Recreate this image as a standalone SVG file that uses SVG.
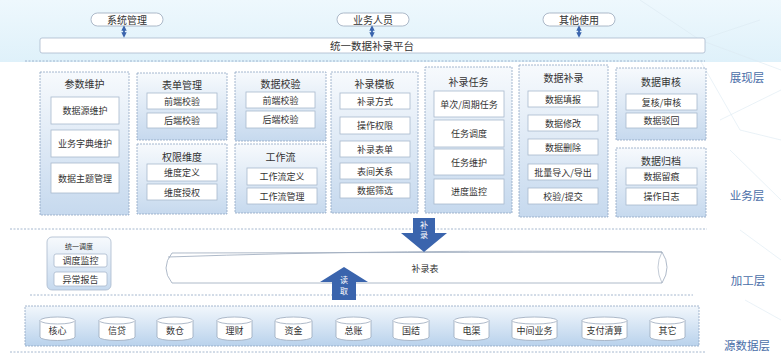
<svg xmlns="http://www.w3.org/2000/svg" width="781" height="361" viewBox="0 0 781 361">
<defs>
<linearGradient id="gBox" x1="0" y1="0" x2="0" y2="1">
<stop offset="0" stop-color="#f7fafd"/>
<stop offset="1" stop-color="#c6d9ee"/>
</linearGradient>
<linearGradient id="gSrc" x1="0" y1="0" x2="0" y2="1">
<stop offset="0" stop-color="#f2f7fc"/>
<stop offset="1" stop-color="#b9d2ec"/>
</linearGradient>
<linearGradient id="gTop" x1="0" y1="0" x2="0" y2="1">
<stop offset="0" stop-color="#eef8fd"/>
<stop offset="1" stop-color="#dff1fa"/>
</linearGradient>
<marker id="ah" viewBox="0 0 6 6" refX="3" refY="3" markerWidth="3" markerHeight="3" orient="auto-start-reverse">
<path d="M0,0 L6,3 L0,6 Z" fill="#3a64ad"/>
</marker>
</defs>
<style>
text{font-family:"Noto Sans CJK SC","Liberation Sans",sans-serif;fill:#333;text-anchor:middle;dominant-baseline:central}
.outer{fill:url(#gBox);stroke:#8fa6c3;stroke-width:0.8;stroke-dasharray:2 1}
.inner{fill:#fff;stroke:#a9b9cd;stroke-width:0.8}
.t{font-size:10px}
.i{font-size:9px}
.dash{stroke:#8fa6c3;stroke-width:0.8;stroke-dasharray:2 1.5;fill:none}
.oval{fill:#fff;stroke:#9aa8bb;stroke-width:0.8}
.layer{font-size:11.5px;fill:#4a6ea8}
.cyl{fill:#fff;stroke:#9aa8bb;stroke-width:0.8}
.barrow{fill:#3a64ad}
.wt{fill:#fff;font-size:8px}
</style>
<rect x="0" y="0" width="781" height="361" fill="#ffffff"/>
<rect x="0" y="0" width="781" height="62" fill="url(#gTop)"/>
<g stroke="#dbe9f2" stroke-width="0.6" fill="none">
<path d="M640 0 L700 40 L760 20 M700 40 L781 70 M720 120 L781 90 M730 150 L781 200 M700 60 L740 130 L781 140 M740 230 L781 260 M745 300 L781 320"/>
</g>
<g id="top-nodes">
<g id="n-sys"><rect class="oval" x="91" y="13" width="72" height="13" rx="6.5"/><text class="t" x="127" y="19.5">系统管理</text></g>
<g id="n-biz"><rect class="oval" x="337" y="13" width="72" height="13" rx="6.5"/><text class="t" x="373" y="19.5">业务人员</text></g>
<g id="n-other"><rect class="oval" x="543" y="13" width="72" height="13" rx="6.5"/><text class="t" x="579" y="19.5">其他使用</text></g>
<g id="n-platform"><rect class="inner" x="40" y="38" width="665" height="15" rx="2"/><text style="font-size:10.5px" x="372" y="45.5">统一数据补录平台</text></g>
</g>
<line class="dash" x1="25" y1="61" x2="705" y2="61"/>
<line class="dash" x1="10" y1="229" x2="707" y2="229"/>
<line class="dash" x1="30" y1="295" x2="693" y2="295"/>
<line class="dash" x1="10" y1="352" x2="705" y2="352"/>
<g id="business">
<g id="b-param"><rect class="outer" x="40" y="72" width="89" height="143"/><text class="t" x="84.5" y="83">参数维护</text>
<rect class="inner" x="51" y="97" width="68" height="27"/><text class="i" x="85" y="110.5">数据源维护</text>
<rect class="inner" x="51" y="130" width="68" height="27"/><text class="i" x="85" y="143.5">业务字典维护</text>
<rect class="inner" x="51" y="163" width="68" height="30"/><text class="i" x="85" y="178">数据主题管理</text></g>
<g id="b-form"><rect class="outer" x="137" y="73" width="90" height="67"/><text class="t" x="182" y="84">表单管理</text>
<rect class="inner" x="147" y="93" width="70" height="16"/><text class="i" x="182" y="101">前端校验</text>
<rect class="inner" x="147" y="113" width="70" height="15"/><text class="i" x="182" y="120.5">后端校验</text></g>
<g id="b-perm"><rect class="outer" x="137" y="144" width="90" height="70"/><text class="t" x="182" y="156">权限维度</text>
<rect class="inner" x="147" y="164" width="70" height="17"/><text class="i" x="182" y="172.5">维度定义</text>
<rect class="inner" x="147" y="184" width="70" height="16"/><text class="i" x="182" y="192">维度授权</text></g>
<g id="b-check"><rect class="outer" x="235" y="72" width="91" height="69"/><text class="t" x="280.5" y="83">数据校验</text>
<rect class="inner" x="246" y="92" width="69" height="16"/><text class="i" x="280.5" y="100">前端校验</text>
<rect class="inner" x="246" y="111" width="69" height="17"/><text class="i" x="280.5" y="119.5">后端校验</text></g>
<g id="b-flow"><rect class="outer" x="235" y="144" width="91" height="69"/><text class="t" x="280.5" y="156">工作流</text>
<rect class="inner" x="247" y="168" width="70" height="17"/><text class="i" x="282" y="176.5">工作流定义</text>
<rect class="inner" x="247" y="188" width="70" height="16"/><text class="i" x="282" y="196">工作流管理</text></g>
<g id="b-tpl"><rect class="outer" x="331" y="72" width="87" height="141"/><text class="t" x="374.5" y="83">补录模板</text>
<rect class="inner" x="340" y="93" width="70" height="16"/><text class="i" x="375" y="101">补录方式</text>
<rect class="inner" x="340" y="117" width="70" height="17"/><text class="i" x="375" y="125.5">操作权限</text>
<rect class="inner" x="340" y="141" width="70" height="16"/><text class="i" x="375" y="149">补录表单</text>
<rect class="inner" x="340" y="163" width="70" height="16"/><text class="i" x="375" y="171">表间关系</text>
<rect class="inner" x="340" y="183" width="70" height="15"/><text class="i" x="375" y="190.5">数据筛选</text></g>
<g id="b-task"><rect class="outer" x="425" y="67" width="87" height="146"/><text class="t" x="468.5" y="81">补录任务</text>
<rect class="inner" x="434" y="91" width="70" height="26"/><text class="i" x="469" y="104">单次/周期任务</text>
<rect class="inner" x="434" y="120" width="70" height="27"/><text class="i" x="469" y="133.5">任务调度</text>
<rect class="inner" x="434" y="149" width="70" height="26"/><text class="i" x="469" y="162">任务维护</text>
<rect class="inner" x="434" y="179" width="70" height="25"/><text class="i" x="469" y="191.5">进度监控</text></g>
<g id="b-entry"><rect class="outer" x="519" y="65" width="89" height="152"/><text class="t" x="563.5" y="77">数据补录</text>
<rect class="inner" x="528" y="91" width="70" height="16"/><text class="i" x="563" y="99">数据填报</text>
<rect class="inner" x="528" y="115" width="70" height="16"/><text class="i" x="563" y="123">数据修改</text>
<rect class="inner" x="528" y="139" width="70" height="16"/><text class="i" x="563" y="147">数据删除</text>
<rect class="inner" x="528" y="164" width="70" height="16"/><text class="i" x="563" y="172">批量导入/导出</text>
<rect class="inner" x="528" y="188" width="70" height="16"/><text class="i" x="563" y="196">校验/提交</text></g>
<g id="b-audit"><rect class="outer" x="616" y="68" width="90" height="72"/><text class="t" x="661" y="81">数据审核</text>
<rect class="inner" x="626" y="94" width="71" height="16"/><text class="i" x="661.5" y="102">复核/审核</text>
<rect class="inner" x="626" y="113" width="71" height="15"/><text class="i" x="661.5" y="120.5">数据驳回</text></g>
<g id="b-archive"><rect class="outer" x="616" y="148" width="90" height="69"/><text class="t" x="661" y="160">数据归档</text>
<rect class="inner" x="626" y="168" width="71" height="17"/><text class="i" x="661.5" y="176.5">数据留痕</text>
<rect class="inner" x="626" y="188" width="71" height="17"/><text class="i" x="661.5" y="196.5">操作日志</text></g>
</g>
<g id="process">
<g id="p-sched"><rect x="47" y="237" width="64" height="53" rx="5" fill="url(#gBox)" stroke="#a9b9cd" stroke-width="0.8"/><text style="font-size:7px" x="79" y="246">统一调度</text>
<rect class="inner" x="54" y="254" width="53" height="13" rx="2"/><text class="i" x="80.5" y="260.5">调度监控</text>
<rect class="inner" x="54" y="272" width="53" height="14" rx="2"/><text class="i" x="80.5" y="279">异常报告</text></g>
<g id="p-table">
<path d="M172 253 L662 252 Q672 267 662 283 L172 283 Q160 268 172 253 Z" fill="#fff" stroke="#9aa8bb" stroke-width="0.8"/>
<path d="M168 257 Q400 249 662 252" fill="none" stroke="#9aa8bb" stroke-width="0.8"/>
<path d="M662 252 Q654 267 662 283" fill="none" stroke="#9aa8bb" stroke-width="0.6"/>
<text class="i" x="425" y="268">补录表</text></g>
</g>
<g id="source">
<rect x="25" y="306" width="674" height="40" fill="url(#gSrc)" stroke="#8fa6c3" stroke-width="0.8" stroke-dasharray="2 1"/>
<g id="s1"><path class="cyl" d="M40 320.5 A17.5 3.5 0 0 1 75 320.5 L75 337 A17.5 3.5 0 0 1 40 337 Z"/><path class="cyl" d="M40 320.5 A17.5 3.5 0 0 0 75 320.5" fill="none"/><text class="i" x="57.5" y="330">核心</text></g>
<g id="s2"><path class="cyl" d="M99 320.5 A18 3.5 0 0 1 135 320.5 L135 337 A18 3.5 0 0 1 99 337 Z"/><path class="cyl" d="M99 320.5 A18 3.5 0 0 0 135 320.5" fill="none"/><text class="i" x="117" y="330">信贷</text></g>
<g id="s3"><path class="cyl" d="M157 320.5 A18 3.5 0 0 1 193 320.5 L193 337 A18 3.5 0 0 1 157 337 Z"/><path class="cyl" d="M157 320.5 A18 3.5 0 0 0 193 320.5" fill="none"/><text class="i" x="175" y="330">数仓</text></g>
<g id="s4"><path class="cyl" d="M217 320.5 A17.5 3.5 0 0 1 252 320.5 L252 337 A17.5 3.5 0 0 1 217 337 Z"/><path class="cyl" d="M217 320.5 A17.5 3.5 0 0 0 252 320.5" fill="none"/><text class="i" x="234.5" y="330">理财</text></g>
<g id="s5"><path class="cyl" d="M275 320.5 A18.5 3.5 0 0 1 312 320.5 L312 337 A18.5 3.5 0 0 1 275 337 Z"/><path class="cyl" d="M275 320.5 A18.5 3.5 0 0 0 312 320.5" fill="none"/><text class="i" x="293.5" y="330">资金</text></g>
<g id="s6"><path class="cyl" d="M336 320.5 A17.5 3.5 0 0 1 371 320.5 L371 337 A17.5 3.5 0 0 1 336 337 Z"/><path class="cyl" d="M336 320.5 A17.5 3.5 0 0 0 371 320.5" fill="none"/><text class="i" x="353.5" y="330">总账</text></g>
<g id="s7"><path class="cyl" d="M393 320.5 A18 3.5 0 0 1 429 320.5 L429 337 A18 3.5 0 0 1 393 337 Z"/><path class="cyl" d="M393 320.5 A18 3.5 0 0 0 429 320.5" fill="none"/><text class="i" x="411" y="330">国结</text></g>
<g id="s8"><path class="cyl" d="M454 320.5 A17.5 3.5 0 0 1 489 320.5 L489 337 A17.5 3.5 0 0 1 454 337 Z"/><path class="cyl" d="M454 320.5 A17.5 3.5 0 0 0 489 320.5" fill="none"/><text class="i" x="471.5" y="330">电渠</text></g>
<g id="s9"><path class="cyl" d="M512 320.5 A22.5 3.5 0 0 1 557 320.5 L557 337 A22.5 3.5 0 0 1 512 337 Z"/><path class="cyl" d="M512 320.5 A22.5 3.5 0 0 0 557 320.5" fill="none"/><text class="i" x="534.5" y="330">中间业务</text></g>
<g id="s10"><path class="cyl" d="M582 320.5 A22.5 3.5 0 0 1 627 320.5 L627 337 A22.5 3.5 0 0 1 582 337 Z"/><path class="cyl" d="M582 320.5 A22.5 3.5 0 0 0 627 320.5" fill="none"/><text class="i" x="604.5" y="330">支付清算</text></g>
<g id="s11"><path class="cyl" d="M650 320.5 A17.5 3.5 0 0 1 685 320.5 L685 337 A17.5 3.5 0 0 1 650 337 Z"/><path class="cyl" d="M650 320.5 A17.5 3.5 0 0 0 685 320.5" fill="none"/><text class="i" x="667.5" y="330">其它</text></g>
</g>
<g id="connectors">
<line x1="124" y1="28" x2="124" y2="35" stroke="#3a64ad" stroke-width="1.8" marker-start="url(#ah)" marker-end="url(#ah)"/>
<line x1="372" y1="28" x2="372" y2="35" stroke="#3a64ad" stroke-width="1.8" marker-start="url(#ah)" marker-end="url(#ah)"/>
<line x1="579" y1="28" x2="579" y2="35" stroke="#3a64ad" stroke-width="1.8" marker-start="url(#ah)" marker-end="url(#ah)"/>
<g id="arrow-write">
<path class="barrow" d="M413 218 L435 218 L435 233 L447 233 L424 252 L401 233 L413 233 Z"/>
<text class="wt" x="424" y="224">补</text><text class="wt" x="424" y="234">录</text>
</g>
<g id="arrow-read">
<path class="barrow" d="M332 300 L356 300 L356 282 L368 282 L344 267 L320 282 L332 282 Z"/>
<text class="wt" x="344" y="279">读</text><text class="wt" x="344" y="290">取</text>
</g>
</g>
<g id="layers">
<text class="layer" x="747" y="77">展现层</text>
<text class="layer" x="747" y="195">业务层</text>
<text class="layer" x="748" y="280">加工层</text>
<text class="layer" x="747" y="345">源数据层</text>
</g>
</svg>
